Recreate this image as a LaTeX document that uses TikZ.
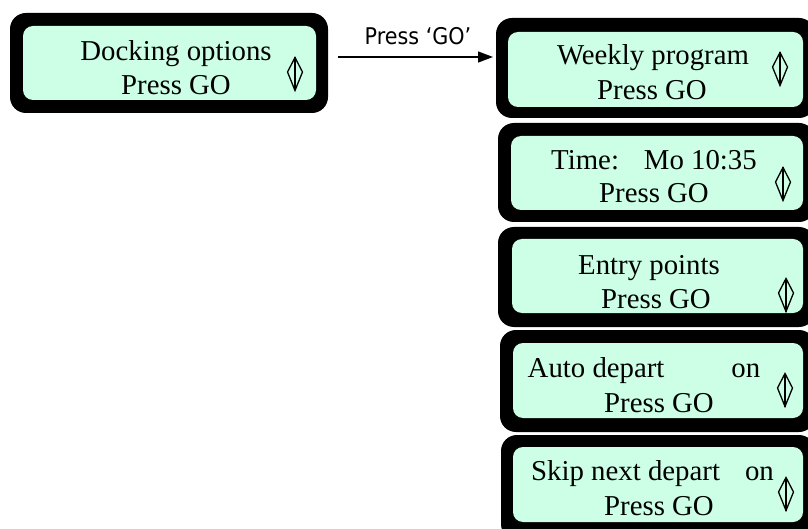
\documentclass[tikz,border=0pt]{standalone}
\usepackage{fontspec}
\setmainfont{Liberation Serif}
\newfontfamily\lblfont[FakeStretch=0.9]{DejaVu Sans}
\usetikzlibrary{arrows.meta}
\definecolor{mint}{RGB}{204,255,230}
\tikzset{
  outerbox/.style={rectangle, fill=black, rounded corners=16pt, inner sep=0pt, outer sep=0pt},
  innerbox/.style={rectangle, fill=mint, rounded corners=10pt, inner sep=0pt, outer sep=0pt},
  txt/.style={anchor=base, inner sep=0pt, font=\fontsize{28.8}{34}\selectfont},
  lbl/.style={anchor=base, inner sep=0pt, font=\lblfont\fontsize{23}{27}\selectfont},
  arr/.style={-{Triangle[length=15pt,width=11pt]}, line width=1.3pt},
  updown/.pic={
    \draw[line width=1.3pt, line join=miter] (0,-16.5) -- (-7.5,-2) -- (0,16.5) -- (7.5,-2) -- cycle;
    \draw[line width=1.2pt] (0,-16.5) -- (0,16.5);
  }
}
\begin{document}
\begin{tikzpicture}[x=1pt,y=-1pt]
\useasboundingbox (0,0) rectangle (808,529);
\clip (0,0) rectangle (808,529);
% left box
\node[outerbox, minimum width=318pt, minimum height=100pt] (dock) at (169,63) {};
\node[innerbox, minimum width=293pt, minimum height=74pt] (dockin) at (169.5,63) {};
\node[txt] (dock1) at (176,61) {Docking options};
\node[txt] (dock2) at (176,95) {Press GO};
\pic (g0) at (295,74) {updown};
% box 1
\node[outerbox, minimum width=319pt, minimum height=100pt] (wk) at (655.5,68) {};
\node[innerbox, minimum width=295pt, minimum height=75pt] (wkin) at (655.5,69.5) {};
\node[txt] (wk1) at (653,65) {Weekly program};
\node[txt] (wk2) at (652,100) {Press GO};
\pic (g1) at (780,69) {updown};
% box 2
\node[outerbox, minimum width=317pt, minimum height=99pt] (tm) at (656.5,172.5) {};
\node[innerbox, minimum width=292pt, minimum height=74pt] (tmin) at (657,173) {};
\node[txt] (tm1) at (654,170) {Time:\hspace{25pt}Mo 10:35};
\node[txt] (tm2) at (654,203) {Press GO};
\pic (g2) at (783,184) {updown};
% box 3
\node[outerbox, minimum width=317pt, minimum height=100pt] (en) at (656.5,277) {};
\node[innerbox, minimum width=291pt, minimum height=74pt] (enin) at (657.5,276) {};
\node[txt] (en1) at (649,275) {Entry points};
\node[txt] (en2) at (656,308) {Press GO};
\pic (g3) at (786,295) {updown};
% box 4
\node[outerbox, minimum width=315pt, minimum height=102pt] (ad) at (657.5,381) {};
\node[innerbox, minimum width=290pt, minimum height=75pt] (adin) at (658,380.5) {};
\node[txt] (ad1) at (644,377) {Auto depart\hspace{67pt}on};
\node[txt] (ad2) at (659,412) {Press GO};
\pic (g4) at (785,390) {updown};
% box 5
\node[outerbox, minimum width=314pt, minimum height=105pt] (sk) at (658,487.5) {};
\node[innerbox, minimum width=290pt, minimum height=75pt] (skin) at (658,484.5) {};
\node[txt] (sk1) at (652.5,480) {Skip next depart\hspace{25pt}on};
\node[txt] (sk2) at (659,515) {Press GO};
\pic (g5) at (786,494) {updown};
% arrow
\coordinate (a) at (338,57);
\coordinate (b) at (493,57);
\draw[arr] (a) -- (b);
\node[lbl] (lab) at (418,45) {Press ‘GO’};
\end{tikzpicture}
\end{document}
